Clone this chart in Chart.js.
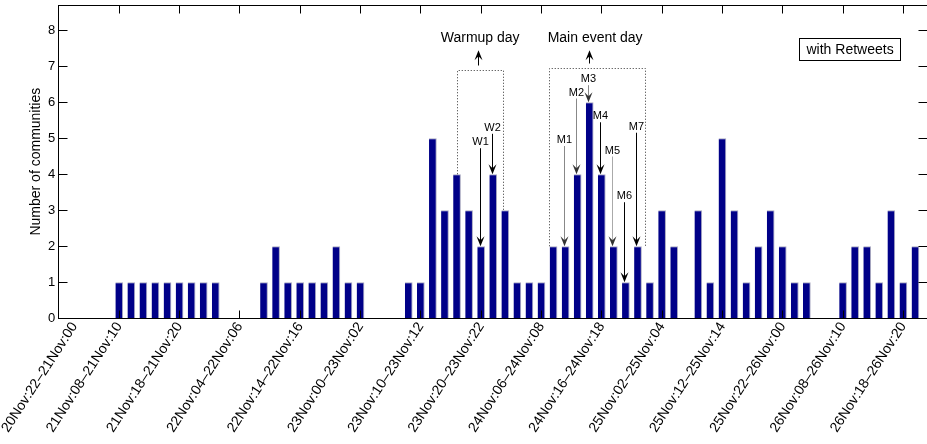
<!DOCTYPE html>
<html>
<head>
<meta charset="utf-8">
<script src="https://cdn.jsdelivr.net/npm/chart.js@4.4.1/dist/chart.umd.min.js"></script>
<style>
  html, body { margin: 0; padding: 0; background: #fff; overflow: hidden; }
  canvas { display: block; }
</style>
</head>
<body>
<canvas id="commChart" width="930" height="444"></canvas>
<script>
// --- 1. Data (one bar per 2-hour bin, bin 0 = 20Nov:22-21Nov:00) ---
const tickLabels = [
    '20Nov:22–21Nov:00', '21Nov:08–21Nov:10', '21Nov:18–21Nov:20', '22Nov:04–22Nov:06',
    '22Nov:14–22Nov:16', '23Nov:00–23Nov:02', '23Nov:10–23Nov:12', '23Nov:20–23Nov:22',
    '24Nov:06–24Nov:08', '24Nov:16–24Nov:18', '25Nov:02–25Nov:04', '25Nov:12–25Nov:14',
    '25Nov:22–26Nov:00', '26Nov:08–26Nov:10', '26Nov:18–26Nov:20'
];
const binsPerTick = 5;
const communities = [
    0, 0, 0, 0, 0,  1, 1, 1, 1, 1,  1, 1, 1, 1, 0,  0, 0, 1, 2, 1,
    1, 1, 1, 2, 1,  1, 0, 0, 0, 1,  1, 5, 3, 4, 3,  2, 4, 3, 1, 1,
    1, 2, 2, 4, 6,  4, 2, 1, 2, 1,  3, 2, 0, 3, 1,  5, 3, 1, 2, 3,
    2, 1, 1, 0, 0,  1, 2, 2, 1, 3,  1, 2
];
const yTicks = [0, 1, 2, 3, 4, 5, 6, 7, 8];

// annotated bins (W = warmup, M = main event)
const markNames = ['W1', 'W2', 'M1', 'M2', 'M3', 'M4', 'M5', 'M6', 'M7'];
const markBins  = [35, 36, 42, 43, 44, 45, 46, 47, 48];

// --- 2. Annotation layout (data units) ---
const markStyle = [
    { textAt: 4.89, color: '#000' }, { textAt: 5.29, color: '#000' },
    { textAt: 4.95, color: '#888' }, { textAt: 6.27, color: '#888' },
    { textAt: 6.64, color: '#888' }, { textAt: 5.61, color: '#000' },
    { textAt: 4.66, color: '#aaa' }, { textAt: 3.39, color: '#000' },
    { textAt: 5.32, color: '#000' }
];
const dayBoxes = [
    { text: 'Warmup day', from: 33, fromBin: 33, to: 36.85, toBin: 37, top: 6.87, arrowAt: 34.8, textX: 34.92 },
    { text: 'Main event day', from: 40.67, fromBin: 41, to: 48.6, toBin: 48, top: 6.94, arrowAt: 44, textX: 44.45 }
];

const FONT = '"Liberation Sans", Arial, Helvetica, sans-serif';
Chart.defaults.font.family = FONT;
Chart.defaults.color = '#000';

function arrowHead(ctx, px, py, dir) {
    // dir 1 = pointing down, -1 = pointing up
    ctx.beginPath();
    ctx.moveTo(px, py);
    ctx.lineTo(px - 4, py - dir * 10);
    ctx.lineTo(px, py - dir * 6);
    ctx.lineTo(px + 4, py - dir * 10);
    ctx.closePath();
    ctx.fill();
}

// --- 3. Plugin: box, inward ticks, annotations, text legend ---
const decorations = {
    id: 'decorations',
    afterDatasetsDraw(chart) {
        const { ctx, chartArea: a, scales: { x, y } } = chart;
        const L = Math.floor(a.left) + 0.5, R = Math.floor(a.right) + 0.5;
        const T = Math.floor(a.top) + 0.5, B = Math.floor(a.bottom) + 0.5;
        ctx.save();
        ctx.strokeStyle = '#000';
        ctx.lineWidth = 1;
        ctx.strokeRect(L, T, R - L, B - T);

        // inward tick marks
        ctx.beginPath();
        yTicks.forEach(v => {
            const py = Math.floor(y.getPixelForValue(v)) + 0.5;
            ctx.moveTo(L, py); ctx.lineTo(L + 9, py);
            ctx.moveTo(R, py); ctx.lineTo(R - 9, py);
        });
        tickLabels.forEach((t, k) => {
            const px = Math.floor(x.getPixelForValue(k * binsPerTick)) + 0.5;
            ctx.moveTo(px, T); ctx.lineTo(px, T + 8);
            ctx.moveTo(px, B); ctx.lineTo(px, B - 8);
        });
        ctx.stroke();

        // dotted day boxes with up arrows
        ctx.font = '14px ' + FONT;
        ctx.textAlign = 'center';
        ctx.textBaseline = 'middle';
        dayBoxes.forEach(d => {
            const x1 = Math.floor(x.getPixelForValue(d.from)) + 0.5;
            const x2 = Math.floor(x.getPixelForValue(d.to)) + 0.5;
            const yt = Math.floor(y.getPixelForValue(d.top)) + 0.5;
            ctx.strokeStyle = '#333';
            ctx.setLineDash([1, 2]);
            ctx.beginPath();
            ctx.moveTo(x1, y.getPixelForValue(communities[d.fromBin]));
            ctx.lineTo(x1, yt);
            ctx.lineTo(x2, yt);
            ctx.lineTo(x2, y.getPixelForValue(communities[d.toBin]));
            ctx.stroke();
            ctx.setLineDash([]);
            const ax = Math.floor(x.getPixelForValue(d.arrowAt)) + 0.5;
            const tip = y.getPixelForValue(7.44);
            ctx.strokeStyle = '#000';
            ctx.fillStyle = '#000';
            ctx.beginPath();
            ctx.moveTo(ax, yt - 5);
            ctx.lineTo(ax, tip + 4);
            ctx.stroke();
            arrowHead(ctx, ax, tip, -1);
            ctx.fillText(d.text, x.getPixelForValue(d.textX), y.getPixelForValue(7.78));
        });

        // labelled arrows down to bars
        ctx.font = '11px ' + FONT;
        markNames.forEach((name, k) => {
            const bin = markBins[k], s = markStyle[k];
            const px = Math.floor(x.getPixelForValue(bin)) - 0.5;
            const ty = y.getPixelForValue(s.textAt);
            const tip = y.getPixelForValue(communities[bin]);
            ctx.fillStyle = '#000';
            ctx.fillText(name, px, ty);
            ctx.strokeStyle = s.color;
            ctx.beginPath();
            ctx.moveTo(px, ty + 6);
            ctx.lineTo(px, tip - 4);
            ctx.stroke();
            ctx.fillStyle = s.color === '#000' ? '#000' : '#333';
            arrowHead(ctx, px, tip, 1);
        });

        // text legend box
        ctx.font = '14px ' + FONT;
        const label = 'with Retweets';
        const w = ctx.measureText(label).width + 14, h = 22;
        const bx = Math.floor(a.right - 27 - w) + 0.5, by = Math.floor(a.top + 33) + 0.5;
        ctx.strokeStyle = '#000';
        ctx.strokeRect(bx, by, Math.round(w), h);
        ctx.fillStyle = '#000';
        ctx.fillText(label, bx + w / 2, by + h / 2 + 1);
        ctx.restore();
    }
};

// --- 4. Chart ---
const ctx = document.getElementById('commChart').getContext('2d');
const commChart = new Chart(ctx, {
    type: 'bar',
    data: {
        datasets: [{
            label: 'with Retweets',
            data: communities.map((v, i) => ({ x: i, y: v })),
            backgroundColor: '#000088',
            borderColor: '#a8a8c0',
            borderWidth: { top: 1, right: 1, left: 0, bottom: 0 },
            borderSkipped: 'bottom',
            barPercentage: 0.8,
            categoryPercentage: 0.8
        }]
    },
    options: {
        responsive: false,
        animation: false,
        layout: { padding: { left: 24, top: 5, right: 2.5, bottom: 0 } },
        plugins: { legend: { display: false }, tooltip: { enabled: false } },
        scales: {
            x: {
                type: 'linear',
                offset: false,
                min: -0.05,
                max: 72,
                grid: { display: false, drawTicks: false, offset: false },
                border: { display: false },
                // first label sits a little inside the axes, as in the source figure
                afterBuildTicks: s => {
                    s.ticks = tickLabels.map((t, k) => ({ value: Math.max(k * binsPerTick, 1.3) }));
                },
                afterFit: s => { s.height = 125.7; s.paddingLeft = 0; s.paddingRight = 0; },
                ticks: {
                    autoSkip: false,
                    minRotation: 57,
                    maxRotation: 57,
                    padding: 1,
                    font: { size: 14 },
                    callback: (v, i) => tickLabels[i]
                }
            },
            y: {
                min: 0,
                max: 8.7,
                grid: { display: false, drawTicks: false },
                border: { display: false },
                afterBuildTicks: s => { s.ticks = yTicks.map(v => ({ value: v })); },
                afterFit: s => { s.width = 34.3; s.paddingTop = 0; s.paddingBottom = 0; },
                ticks: { padding: 3, font: { size: 13 } },
                title: { display: true, text: 'Number of communities', font: { size: 14 } }
            }
        }
    },
    plugins: [decorations]
});
</script>
</body>
</html>
